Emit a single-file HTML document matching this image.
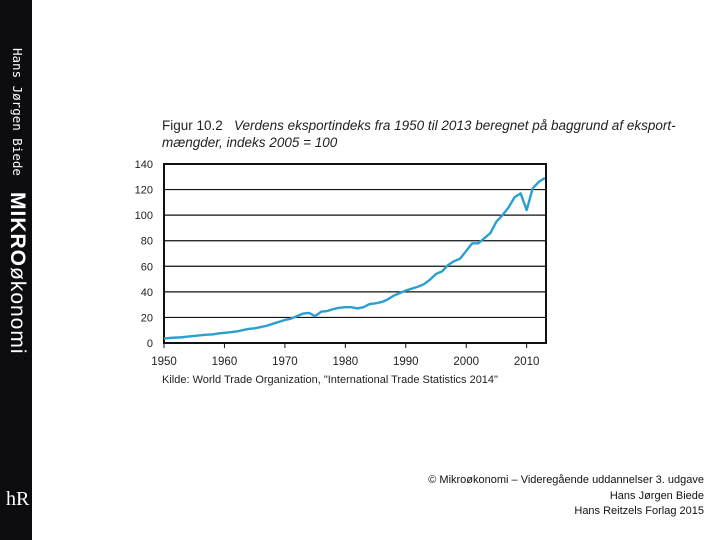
<!DOCTYPE html>
<html><head><meta charset="utf-8"><style>
body{margin:0;width:720px;height:540px;background:#fff;position:relative;overflow:hidden;font-family:"Liberation Sans",sans-serif}
#bar{position:absolute;left:0;top:0;width:32px;height:540px;background:#0c0c10}
.vt{position:absolute;color:#fff;white-space:nowrap;transform:rotate(90deg);transform-origin:0 0}
.t{position:absolute;white-space:nowrap}
</style></head><body>
<div id="bar">
 <div class="vt" style="left:25px;top:48px;font-size:12.5px;letter-spacing:0px;font-family:'DejaVu Sans Mono',monospace">Hans Jørgen Biede</div>
 <div class="vt" style="left:29px;top:192px;font-size:21px;letter-spacing:1px"><b>MIKRO</b>økonomi</div>
 <div class="t" style="left:6px;top:488px;color:#fff;font-family:'Liberation Serif',serif;font-size:20px">hR</div>
</div>
<div class="t" style="left:162px;top:117px;font-size:13.5px;line-height:17px;color:#222">Figur 10.2 &nbsp;&nbsp;<i>Verdens eksportindeks fra 1950 til 2013 beregnet på baggrund af eksport-<br>mængder, indeks 2005 = 100</i></div>
<div class="t" style="left:162px;top:374px;font-size:11px;color:#222">Kilde: World Trade Organization, "International Trade Statistics 2014"</div>
<div class="t" style="right:16px;top:473px;font-size:11px;line-height:15.5px;text-align:right;color:#111">© Mikroøkonomi – Videregående uddannelser 3. udgave<br>Hans Jørgen Biede<br>Hans Reitzels Forlag 2015</div>
<svg id="chart" width="720" height="540" style="position:absolute;left:0;top:0"></svg>
<script>
const years=[];for(let y=1950;y<=2013;y++)years.push(y);
const values=[3.5,4,4.2,4.5,5,5.5,6,6.5,6.7,7.5,8,8.5,9,10,11,11.5,12.5,13.5,15,16.5,18,19,21,23,23.5,21,24.5,25,26.5,27.5,28,28,27,28,30.5,31,32,34,37,39,41,42.5,44,46,49.5,54,56,61,64,66,72,78,78,82,86,95,100,106,114,117,104,121,126,129,132];
const yTicks=[0,20,40,60,80,100,120,140];
const xTicks=[1950,1960,1970,1980,1990,2000,2010];
const svg=document.getElementById('chart'),NS='http://www.w3.org/2000/svg';
const L=164,R=546,T=164,B=343;
const xS=y=>L+(y-1950)*(R-L)/(2013.2-1950);
const yS=v=>B-v*(B-T)/140;
function mk(t,a,p){const e=document.createElementNS(NS,t);for(const k in a)e.setAttribute(k,a[k]);(p||svg).appendChild(e);return e;}
yTicks.forEach(v=>{
 const g=mk('line',{x1:L,x2:R,y1:yS(v),y2:yS(v),stroke:'#111','stroke-width':1.2});
 
 
 const tx=mk('text',{x:L-11,y:yS(v)+4,'text-anchor':'end','font-size':11,'font-family':'Liberation Sans,sans-serif',fill:'#222'});tx.textContent=v;
 
 
});
xTicks.forEach(y=>{
 const k=mk('line',{x1:xS(y),x2:xS(y),y1:B,y2:B+5,stroke:'#111','stroke-width':1});
 
 
 const tx=mk('text',{x:xS(y),y:B+22,'text-anchor':'middle','font-size':11.5,'font-family':'Liberation Sans,sans-serif',fill:'#222'});tx.textContent=y;
 
 
});
const fr=mk('rect',{x:L,y:T,width:R-L,height:B-T,fill:'none',stroke:'#111','stroke-width':2});


const ln=mk('polyline',{points:years.map((y,i)=>xS(y)+','+yS(values[i])).join(' '),fill:'none',stroke:'#2a9fd0','stroke-width':2.4,'stroke-linejoin':'round'});


</script>
</body></html>
